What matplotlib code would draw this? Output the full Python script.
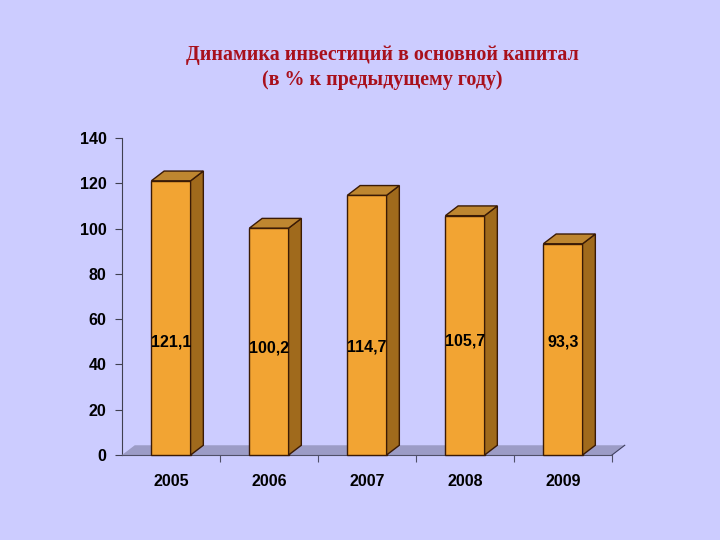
import matplotlib.pyplot as plt
from matplotlib.patches import Polygon

years = ['2005', '2006', '2007', '2008', '2009']
values = [121.1, 100.2, 114.7, 105.7, 93.3]
value_labels = ['121,1', '100,2', '114,7', '105,7', '93,3']
yticks = [0, 20, 40, 60, 80, 100, 120, 140]

# the labels inside the bars are not on one line in the original
label_y = [50, 47.2, 47.6, 50.2, 50]

bg = '#CCCCFF'
front = '#F2A433'
side = '#A06A1C'
top = '#BE8630'
edge = '#3A1A05'
floor = '#9C9CC6'

# 3d offsets in data units
dx, dy = 0.13, 4.3
w = 0.40

fig = plt.figure(figsize=(7.2, 5.4), dpi=100, facecolor=bg)
ax = fig.add_axes([122 / 720, 85 / 540, 490 / 720, 317 / 540])
ax.set_facecolor(bg)
ax.set_xlim(-0.5, 4.5)
ax.set_ylim(0, 140)

# floor
ax.add_patch(Polygon([(-0.5, 0), (4.5, 0), (4.5 + dx, dy), (-0.5 + dx, dy)],
                     closed=True, facecolor=floor, edgecolor='none', clip_on=False, zorder=1))
ax.plot([4.5, 4.5 + dx], [0, dy], color='#404060', lw=0.8, clip_on=False, zorder=1)

for i, v in enumerate(values):
    x0, x1 = i - w / 2, i + w / 2
    ax.add_patch(Polygon([(x0, 0), (x1, 0), (x1, v), (x0, v)], closed=True,
                         facecolor=front, edgecolor=edge, lw=1, clip_on=False, zorder=3))
    ax.add_patch(Polygon([(x1, 0), (x1 + dx, dy), (x1 + dx, v + dy), (x1, v)], closed=True,
                         facecolor=side, edgecolor=edge, lw=1, clip_on=False, zorder=3))
    ax.add_patch(Polygon([(x0, v), (x1, v), (x1 + dx, v + dy), (x0 + dx, v + dy)], closed=True,
                         facecolor=top, edgecolor=edge, lw=1, clip_on=False, zorder=3))
    ax.text(i, label_y[i], value_labels[i], ha='center', va='center', fontsize=11.5,
            fontweight='bold', family='Liberation Sans', color='black', zorder=4)

for s in ['top', 'right']:
    ax.spines[s].set_visible(False)
ax.spines['left'].set_color('#404050')
ax.spines['bottom'].set_color('#505068')
ax.spines['left'].set_zorder(0)

ax.set_yticks(yticks)
ax.set_yticklabels([str(t) for t in yticks], fontsize=11.5, fontweight='bold', family='Liberation Sans')
ax.set_xticks([i + 0.5 for i in range(len(years))])
ax.set_xticklabels([])
ax.set_xticks(range(len(years)), minor=True)
ax.set_xticklabels(years, minor=True, fontsize=11.5, fontweight='bold', family='Liberation Sans')
ax.tick_params(axis='x', which='minor', length=0, pad=14)
ax.tick_params(axis='x', which='major', length=5, direction='out', color='#505068')
ax.tick_params(axis='y', length=5, direction='out', color='#404050', pad=6)

fig.text(0.531, 0.875, 'Динамика инвестиций в основной капитал\n(в % к предыдущему году)',
         ha='center', va='center', fontsize=14.4, fontweight='bold', family='Liberation Serif',
         color='#A8101C', linespacing=1.3)

fig.savefig('out.png', dpi=100, facecolor=bg)
